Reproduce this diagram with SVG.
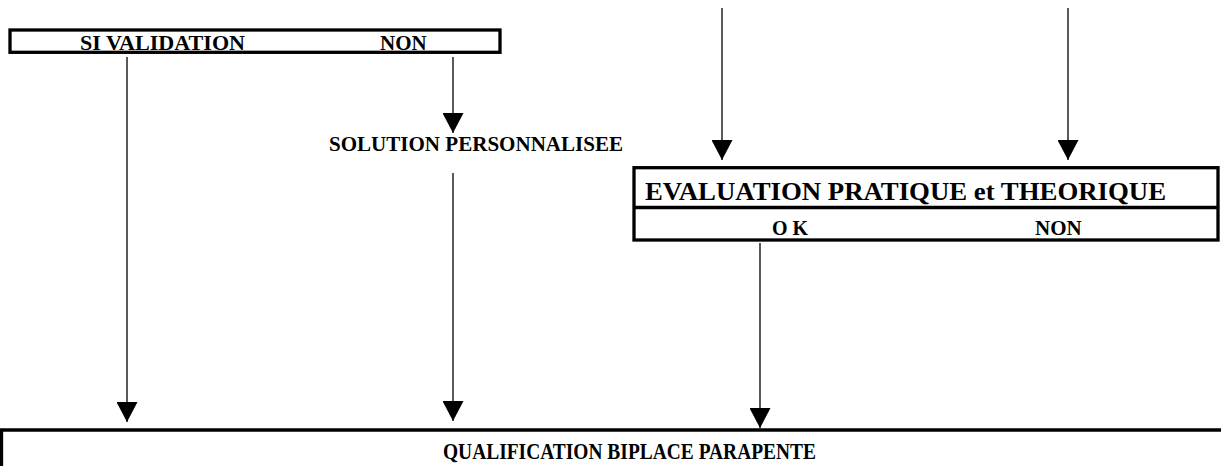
<svg xmlns="http://www.w3.org/2000/svg" width="1221" height="466" viewBox="0 0 1221 466">
<style>
.box{fill:none;stroke:#000;stroke-width:3.3}
.ln{stroke:#000;stroke-width:1.3;fill:none}
.t{font-family:"Liberation Serif","Times New Roman",serif;font-weight:bold;fill:#000}
</style>
<defs>
<marker id="ah" viewBox="0 0 20 21" refX="20" refY="10.5" markerWidth="20" markerHeight="21" markerUnits="userSpaceOnUse" orient="auto">
<path d="M0,0 L20,10.5 L0,21 z" fill="#000"/>
</marker>
</defs>
<rect width="1221" height="466" fill="#fff"/>
<g id="validation">
<rect class="box" x="10" y="30" width="490" height="22.3"/>
<text class="t" x="80" y="50" font-size="21" textLength="165" lengthAdjust="spacingAndGlyphs">SI VALIDATION</text>
<text class="t" x="380" y="50" font-size="21">NON</text>
</g>
<g id="solution">
<text class="t" x="329" y="151" font-size="20.5" textLength="294" lengthAdjust="spacingAndGlyphs">SOLUTION PERSONNALISEE</text>
</g>
<g id="evaluation">
<rect class="box" x="634" y="167.7" width="584" height="72.3"/>
<line class="box" x1="634" y1="207.5" x2="1218" y2="207.5"/>
<text class="t" x="645" y="199.5" font-size="26" textLength="521" lengthAdjust="spacingAndGlyphs">EVALUATION PRATIQUE et THEORIQUE</text>
<text class="t" x="772" y="235" font-size="20">O K</text>
<text class="t" x="1035" y="235" font-size="21">NON</text>
</g>
<g id="qualification">
<line class="box" x1="0" y1="430" x2="1221" y2="430"/>
<line class="box" x1="1.5" y1="430" x2="1.5" y2="466"/>
<text class="t" x="443" y="458.5" font-size="24" textLength="373" lengthAdjust="spacingAndGlyphs">QUALIFICATION BIPLACE PARAPENTE</text>
</g>
<g id="connectors">
<line class="ln" x1="127" y1="57" x2="127" y2="422" marker-end="url(#ah)"/>
<line class="ln" x1="453" y1="57" x2="453" y2="133" marker-end="url(#ah)"/>
<line class="ln" x1="453" y1="173" x2="453" y2="421" marker-end="url(#ah)"/>
<line class="ln" x1="722" y1="8" x2="722" y2="160" marker-end="url(#ah)"/>
<line class="ln" x1="1068" y1="8" x2="1068" y2="160" marker-end="url(#ah)"/>
<line class="ln" x1="760" y1="243" x2="760" y2="428" marker-end="url(#ah)"/>
</g>
</svg>
